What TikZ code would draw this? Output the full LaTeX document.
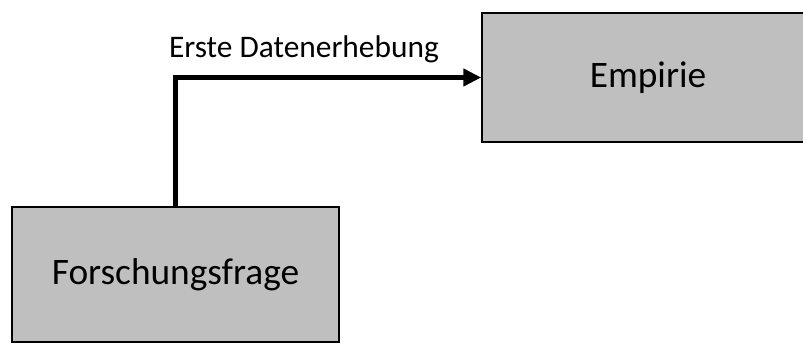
\documentclass[tikz,border=0pt]{standalone}
\usepackage{fontspec}
\setmainfont{Carlito}
\usetikzlibrary{arrows.meta}
\definecolor{boxgray}{HTML}{BFBFBF}
\begin{document}
\begin{tikzpicture}[x=1bp, y=1bp,
    box/.style={draw, rectangle, line width=1.5bp, fill=boxgray, inner sep=0pt, font=\fontsize{37.5}{44}\selectfont}]
    \useasboundingbox (0,0) rectangle (803,343);
    \clip (0,0) rectangle (803,343);
    \node[box, minimum width=327bp, minimum height=135bp] (frage) at (175.5,68.5) {Forschungsfrage};
    \node[box, minimum width=332bp, minimum height=129bp] (empirie) at (648,265.5) {Empirie};

    \draw[line width=5bp, -{Triangle[length=18bp, width=17bp]}] (frage.north) |- (empirie.west)
        node[pos=0.71, anchor=base, yshift=20bp, font=\fontsize{31.5}{38}\selectfont] (erhebung) {Erste Datenerhebung};
\end{tikzpicture}
\end{document}
